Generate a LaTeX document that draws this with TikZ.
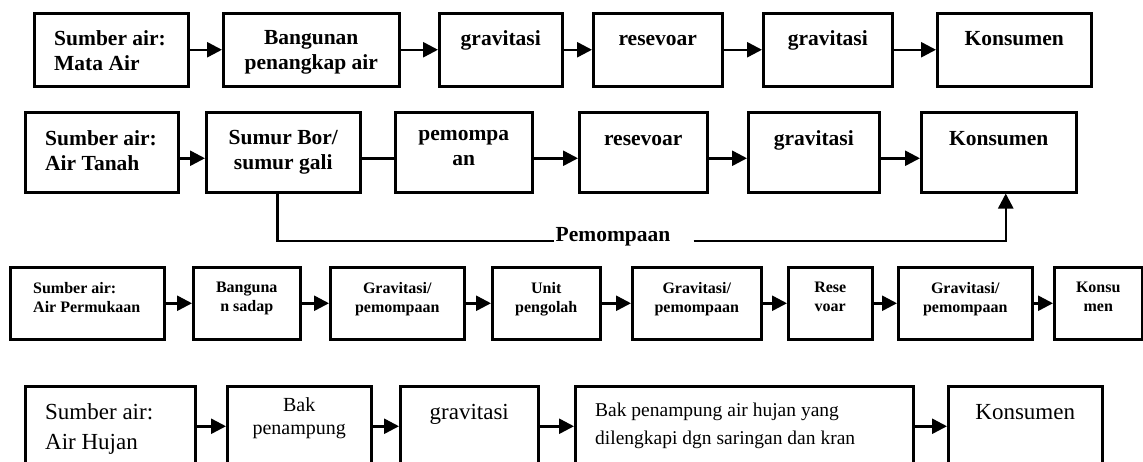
\documentclass[tikz,border=0pt]{standalone}
\usepackage{fontspec}
\setmainfont{Liberation Serif}
\usepackage{tikz}
\usetikzlibrary{arrows.meta, positioning}
\tikzset{
  box/.style={draw, line width=2.5pt, anchor=north west, inner sep=0pt},
  rowa/.style={box, minimum height=73pt},
  rowb/.style={box, minimum height=80pt},
  rowc/.style={box, minimum height=72pt},
  rowd/.style={box, minimum height=80pt},
  boxtext/.style={anchor=north, inner sep=0pt, align=center, execute at begin node={\rule{0pt}{0.7em}}},
  bigtext/.style={boxtext, yshift=-18pt, font=\fontsize{21.5}{25}\selectfont\bfseries},
  smalltext/.style={boxtext, yshift=-16pt, font=\fontsize{16}{19}\selectfont\bfseries},
  plaintext/.style={boxtext, yshift=-18pt, font=\fontsize{23}{30}\selectfont},
  lefttext/.style={anchor=north west, xshift=21pt, align=left},
  arrow/.style={-{Triangle[length=15pt, width=15pt]}, line width=2.5pt},
  link/.style={line width=2.5pt}
}

\begin{document}
\begin{tikzpicture}[x=1pt,y=-1pt]
    \useasboundingbox (0,0) rectangle (1143,461);
    % mata air
    \node[rowa, minimum width=154pt, label={[bigtext, lefttext]north west:{Sumber air:\\Mata Air}}] (mata) at (33,12) {};
    \node[rowa, minimum width=176pt, label={[bigtext]north:{Bangunan\\penangkap air}}] (bangunan) at (222,12) {};
    \node[rowa, minimum width=123pt, label={[bigtext]north:gravitasi}] (grav1) at (438,12) {};
    \node[rowa, minimum width=129pt, label={[bigtext]north:resevoar}] (res1) at (592,12) {};
    \node[rowa, minimum width=129pt, label={[bigtext]north:gravitasi}] (grav2) at (762,12) {};
    \node[rowa, minimum width=154pt, label={[bigtext]north:Konsumen}] (kons1) at (936,12) {};
    % air tanah
    \node[rowb, minimum width=153pt, label={[bigtext, yshift=-1pt, lefttext]north west:{Sumber air:\\Air Tanah}}] (tanah) at (24,111) {};
    \node[rowb, minimum width=154pt, label={[bigtext, yshift=-1pt]north:{Sumur Bor/\\sumur gali}}] (sumur) at (205,111) {};
    \node[rowb, minimum width=137pt, label={[bigtext, yshift=-1pt]north:{pemompa\\an}}] (pompa) at (394,111) {};
    \node[rowb, minimum width=128pt, label={[bigtext, yshift=-1pt]north:resevoar}] (res2) at (578,111) {};
    \node[rowb, minimum width=131pt, label={[bigtext, yshift=-1pt]north:gravitasi}] (grav3) at (747,111) {};
    \node[rowb, minimum width=155pt, label={[bigtext, yshift=-1pt]north:Konsumen}] (kons2) at (920,111) {};
    \node[font=\fontsize{21.5}{25}\selectfont\bfseries, inner sep=1pt, anchor=base] (pemo) at (613,241) {Pemompaan};
    % air permukaan
    \node[rowc, minimum width=154pt, label={[smalltext, lefttext, xshift=3pt]north west:{Sumber air:\\Air Permukaan}}] (permukaan) at (9,266) {};
    \node[rowc, minimum width=107pt, label={[smalltext]north:{Banguna\\n sadap}}] (sadap) at (192,266) {};
    \node[rowc, minimum width=134pt, label={[smalltext]north:{Gravitasi/\\pemompaan}}] (gravpo1) at (329,266) {};
    \node[rowc, minimum width=108pt, label={[smalltext]north:{Unit\\pengolah}}] (olah) at (491,266) {};
    \node[rowc, minimum width=129pt, label={[smalltext]north:{Gravitasi/\\pemompaan}}] (gravpo2) at (631,266) {};
    \node[rowc, minimum width=84pt, label={[smalltext]north:{Rese\\voar}}] (res3) at (787,266) {};
    \node[rowc, minimum width=134pt, label={[smalltext]north:{Gravitasi/\\pemompaan}}] (gravpo3) at (897,266) {};
    \node[rowc, minimum width=88pt, label={[smalltext]north:{Konsu\\men}}] (kons3) at (1053,266) {};
    % air hujan
    \node[rowd, minimum width=170pt, label={[plaintext, lefttext]north west:{Sumber air:\\Air Hujan}}] (hujan) at (24,385) {};
    \node[rowd, minimum width=144pt, label={[plaintext, yshift=6pt, font=\fontsize{20}{23}\selectfont]north:{Bak\\penampung}}] (bak) at (226,385) {};
    \node[rowd, minimum width=138pt, label={[plaintext]north:gravitasi}] (grav4) at (399,385) {};
    \node[rowd, minimum width=338pt, label={[plaintext, lefttext, font=\fontsize{19.5}{28}\selectfont]north west:{Bak penampung air hujan yang\\dilengkapi dgn saringan dan kran}}] (bakfull) at (574,385) {};
    \node[rowd, minimum width=154pt, label={[plaintext]north:Konsumen}] (kons4) at (947,385) {};

    \foreach \a/\b in {mata/bangunan, bangunan/grav1, grav1/res1, res1/grav2, grav2/kons1,
                       permukaan/sadap, sadap/gravpo1, gravpo1/olah, olah/gravpo2, gravpo2/res3, res3/gravpo3, gravpo3/kons3,
                       hujan/bak, bak/grav4, grav4/bakfull, bakfull/kons4}
        \draw[arrow] (\a) -- (\b);
    \foreach \a/\b in {tanah/sumur, pompa/res2, res2/grav3, grav3/kons2}
        \draw[arrow] ([yshift=-6pt]\a.east) -- ([yshift=-6pt]\b.west);
    \draw[link] ([yshift=-6pt]sumur.east) -- ([yshift=-6pt]pompa.west);
    \draw[link] ([xshift=-6pt]sumur.south) |- (pemo.base west);
    \draw[arrow] ([xshift=22pt]pemo.base east) -| ([xshift=7pt]kons2.south);
\end{tikzpicture}
\end{document}
